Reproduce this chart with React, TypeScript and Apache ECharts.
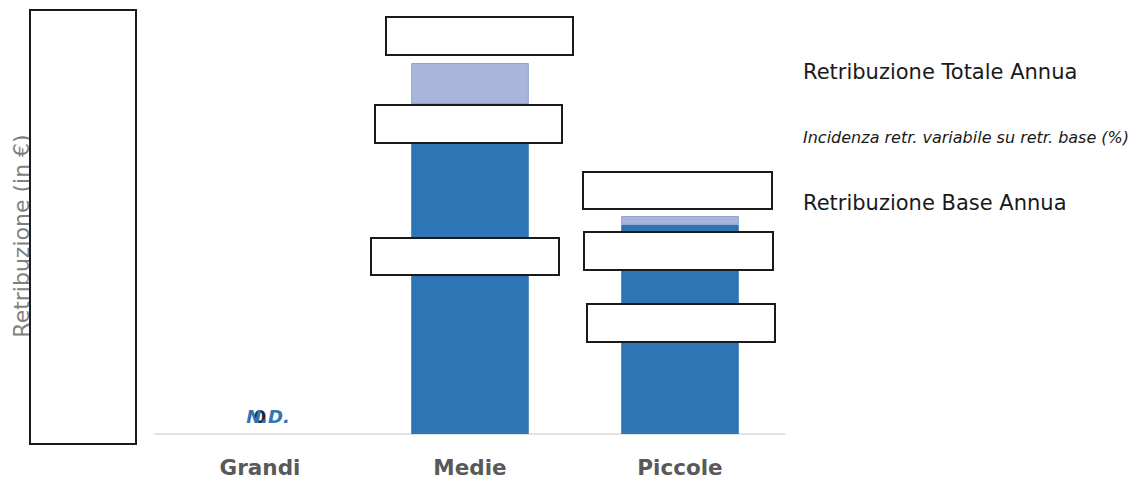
import React, { useEffect, useRef } from "react";
import * as echarts from "echarts";

const categories = ["Grandi", "Medie", "Piccole"];
// Retribuzione Base Annua (€)
const baseValues = [0, 46700, 29600];
// Retribuzione Totale Annua (€)
const totalValues = [0, 52500, 30850];
const variableValues = totalValues.map((t, i) => t - baseValues[i]);
const legendLabels = [
  "Retribuzione Totale Annua",
  "Incidenza retr. variabile su retr. base (%)",
  "Retribuzione Base Annua",
];
const yAxisTitle = "Retribuzione (in €)";
const naLabel = "N.D.";

const FONT = "'DejaVu Sans', sans-serif";

export default function App() {
  const ref = useRef<HTMLDivElement>(null);
  useEffect(() => {
    if (!ref.current) return;
    const chart = echarts.init(ref.current, undefined, { renderer: "svg" });
    const box = (x: number, y: number, w: number, h: number) => ({
      type: "rect",
      z: 100,
      shape: { x, y, width: w, height: h },
      style: { fill: "#ffffff", stroke: "#1a1a1a", lineWidth: 2 },
    });
    chart.setOption({
      animation: false,
      backgroundColor: "#ffffff",
      textStyle: { fontFamily: FONT },
      grid: { left: 155, right: 356, top: 10, bottom: 50 },
      xAxis: {
        type: "category",
        data: categories,
        axisLine: { show: true, lineStyle: { color: "#D9D9D9", width: 1.5 } },
        axisTick: { show: false },
        axisLabel: {
          color: "#595959",
          fontSize: 21.5,
          fontWeight: "bold",
          fontFamily: FONT,
          margin: 22,
        },
      },
      yAxis: {
        type: "value",
        min: 0,
        max: 60000,
        show: false,
        splitLine: { show: false },
      },
      series: [
        {
          name: "Retribuzione Base Annua",
          type: "bar",
          stack: "r",
          barWidth: "56%",
          itemStyle: { color: "#2E75B6" },
          data: baseValues.map((v, i) =>
            i === 0
              ? {
                  value: v,
                  label: {
                    show: true,
                    position: "top",
                    distance: 9,
                    formatter: String(v),
                    color: "#262626",
                    fontSize: 18,
                    fontWeight: "bold",
                    fontFamily: FONT,
                  },
                }
              : v
          ),
        },
        {
          name: "Retribuzione variabile",
          type: "bar",
          stack: "r",
          barWidth: "56%",
          itemStyle: { color: "#A9B6DC" },
          data: variableValues.map((v, i) =>
            i === 0
              ? {
                  value: v,
                  itemStyle: { borderWidth: 0 },
                  label: {
                    show: true,
                    position: "top",
                    distance: 9,
                    offset: [8, 0],
                    formatter: naLabel,
                    color: "#2E75B6",
                    fontSize: 18,
                    fontWeight: "bold",
                    fontStyle: "italic",
                    fontFamily: FONT,
                  },
                }
              : { value: v, itemStyle: { borderColor: "#8EA2CF", borderWidth: 1 } }
          ),
        },
      ],
      graphic: [
        {
          type: "text",
          z: 50,
          x: 10,
          y: 236,
          rotation: Math.PI / 2,
          style: {
            text: yAxisTitle,
            fill: "#7F7F7F",
            fontSize: 22,
            fontFamily: FONT,
            align: "center",
            verticalAlign: "top",
          },
        },
        box(30, 10, 106, 434),
        {
          type: "text",
          x: 803,
          y: 72,
          style: {
            text: legendLabels[0],
            fill: "#1a1a1a",
            fontSize: 21,
            fontFamily: FONT,
            verticalAlign: "middle",
          },
        },
        {
          type: "text",
          x: 803,
          y: 137,
          style: {
            text: legendLabels[1],
            fill: "#1a1a1a",
            fontSize: 16,
            fontStyle: "italic",
            fontFamily: FONT,
            verticalAlign: "middle",
          },
        },
        {
          type: "text",
          x: 803,
          y: 203,
          style: {
            text: legendLabels[2],
            fill: "#1a1a1a",
            fontSize: 21,
            fontFamily: FONT,
            verticalAlign: "middle",
          },
        },
        box(386, 17, 187, 38),
        box(375, 105, 187, 38),
        box(371, 238, 188, 37),
        box(583, 172, 189, 37),
        box(584, 232, 189, 38),
        box(587, 304, 188, 38),
      ],
    });
    return () => chart.dispose();
  }, []);
  return (
    <div
      ref={ref}
      style={{ position: "fixed", left: 0, top: 0, width: 1141, height: 484 }}
    />
  );
}
